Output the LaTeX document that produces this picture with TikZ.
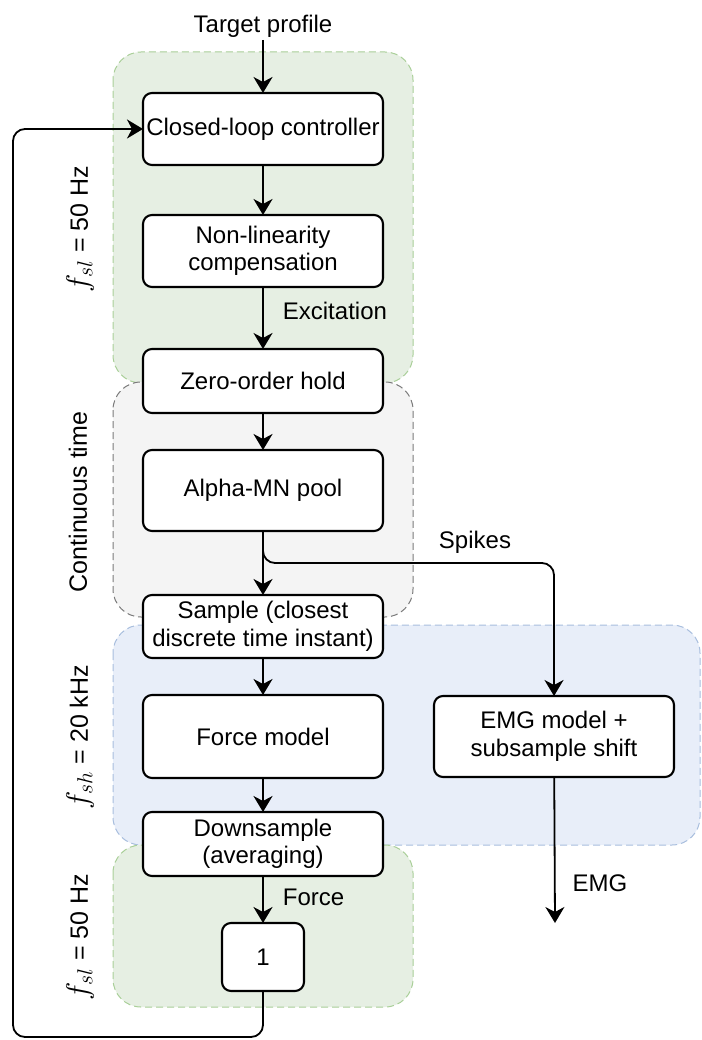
\documentclass[tikz,border=0pt]{standalone}
\usepackage{fix-cm}
\usepackage{fontspec}
\setmainfont{Liberation Sans}
\usepackage{tikz}
\usetikzlibrary{arrows.meta, positioning}

\definecolor{slowfill}{HTML}{E6EFE3}
\definecolor{slowline}{HTML}{A9CF98}
\definecolor{contfill}{HTML}{F4F4F4}
\definecolor{contline}{HTML}{7A7A7A}
\definecolor{fastfill}{HTML}{E8EEF9}
\definecolor{fastline}{HTML}{A8BEDE}

\newcommand{\ratesym}[1]{{\fontsize{31}{34}\selectfont$f_{#1}$}}

\begin{document}
\begin{tikzpicture}[
    x=1pt, y=-1pt,
    node distance=40pt and 50pt,
    box/.style={draw, fill=white, line width=2.1pt, rounded corners=9pt, minimum width=240pt, align=center, inner sep=2pt, outer sep=0pt, font=\fontsize{24}{27.5}\selectfont},
    lbl/.style={inner sep=2pt, font=\fontsize{24}{27.5}\selectfont},
    rate/.style={rotate=90, inner sep=0pt, font=\fontsize{25}{28}\selectfont},
    arrow/.style={-{Stealth[length=16pt, width=19pt, inset=5pt]}, line width=1.8pt},
    region/.style={rounded corners=28pt, line width=1pt, dash pattern=on 7pt off 4pt}
]
    \useasboundingbox (0,0) rectangle (701,1040);

    % sampling regions
    \filldraw[region, fill=slowfill, draw=slowline] (113,52) rectangle (413,383);
    \filldraw[region, fill=contfill, draw=contline] (113,382) rectangle (413,617);
    \filldraw[region, fill=fastfill, draw=fastline] (113,625) rectangle (700,845);
    \filldraw[region, fill=slowfill, draw=slowline] (113,845) rectangle (413,1007);

    \node[rate] (fsltop) at (80,229) {\ratesym{sl} = 50 Hz};
    \node[rate] (cont) at (78,502) {Continuous time};
    \node[rate] (fsh) at (80,737) {\ratesym{sh} = 20 kHz};
    \node[rate] (fslbot) at (80,937) {\ratesym{sl} = 50 Hz};

    % main chain
    \node[box, minimum height=72pt] (clc) at (263,129) {Closed-loop controller};
    \node[lbl, above=53pt of clc] (target) {Target profile};
    \node[box, minimum height=72pt, below=50pt of clc] (nlc) {Non-linearity\\compensation};
    \node[box, minimum height=64pt, below=62pt of nlc] (zoh) {Zero-order hold};
    \node[box, minimum height=81pt, below=37pt of zoh] (pool) {Alpha-MN pool};
    \node[box, minimum height=63pt, below=64pt of pool] (sample) {Sample (closest\\discrete time instant)};
    \node[box, minimum height=83pt, below=37pt of sample] (force) {Force model};
    \node[box, minimum height=64pt, below=34pt of force] (down) {Downsample\\(averaging)};
    \node[box, minimum height=68pt, minimum width=82pt, below=47pt of down] (one) {1};
    \node[box, minimum height=81pt, right=51pt of force] (emg) {EMG model +\\subsample shift};
    \coordinate (emgout) at (555,923);
    \node[lbl] (spikes) at (475,542) {Spikes};

    \draw[arrow] (target) -- (clc);
    \draw[arrow] (clc) -- (nlc);
    \draw[arrow] (nlc) -- node[lbl, right=17pt, pos=0.38] (excit) {Excitation} (zoh);
    \draw[arrow] (zoh) -- (pool);
    \draw[arrow] (pool) -- (sample);
    \draw[arrow, rounded corners=12pt] (pool.south) -- ++(0,32) -| (emg.north);
    \draw[arrow] (sample) -- (force);
    \draw[arrow] (force) -- (down);
    \draw[arrow] (down) -- node[lbl, right=17pt, pos=0.45] (forcelbl) {Force} (one);
    \draw[arrow] (emg) -- node[lbl, right=15pt, pos=0.73] (emglbl) {EMG} (emgout);
    \draw[arrow, rounded corners=12pt] (one.south) -- ++(0,46) -| ([xshift=-130pt]clc.west) -- (clc.west);
\end{tikzpicture}
\end{document}
